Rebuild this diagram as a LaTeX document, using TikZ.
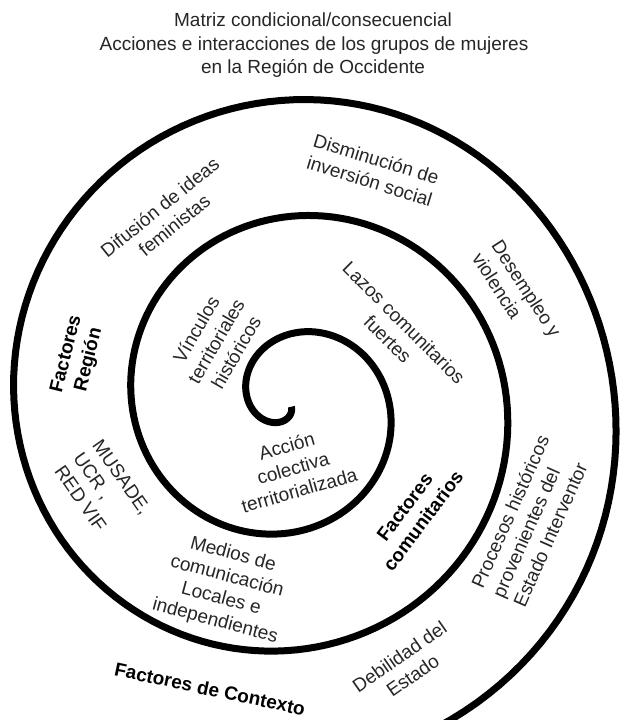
\documentclass[tikz,border=0pt]{standalone}
\usepackage{fontspec}
\setmainfont{Liberation Sans}
\definecolor{ink}{HTML}{262626}
\begin{document}
\begin{tikzpicture}[x=1pt,y=-1pt,
  txt/.style={font=\fontsize{19}{23}\selectfont, text=ink, inner sep=0pt},
  lbl/.style={txt, align=center},
  lbll/.style={txt, align=left},
  bld/.style={txt, align=center, font=\fontsize{19}{23}\selectfont\bfseries, text=black},
  spiral/.style={draw=black, line width=7pt}]
\useasboundingbox (0,0) rectangle (619,720);
% title
\node[txt, anchor=base] (t1) at (313,27) {Matriz condicional/consecuencial};
\node[txt, anchor=base] (t2) at (314,50) {Acciones e interacciones de los grupos de mujeres};
\node[txt, anchor=base] (t3) at (313,73) {en la Región de Occidente};
% spiral
\draw[spiral]
  plot[domain=-115:760, samples=360, variable=\s]
    ({290+(40.6+0.3267*\s)*cos(180-\s)},{404-(40.6+0.3267*\s)*sin(180-\s)})
  -- plot[domain=760:975, samples=90, variable=\s]
    ({290+(40.6+0.3267*\s-10.5*exp(-((\s-885)/50)*((\s-885)/50)))*cos(180-\s)},
     {404-(40.6+0.3267*\s-10.5*exp(-((\s-885)/50)*((\s-885)/50)))*sin(180-\s)});
% labels
\node[lbl, rotate=39] (dif) at (167,216) {Difusión de ideas\\feministas};
\node[lbll, rotate=-17] (dis) at (373,170) {Disminución de\\inversión social};
\node[lbll, rotate=-57] (des) at (517,295) {Desempleo y\\violencia};
\node[lbl, rotate=-45] (laz) at (396,331) {Lazos comunitarios\\fuertes};
\node[lbl, rotate=60] (vin) at (216,341) {Vínculos\\territoriales\\históricos};
\node[bld, rotate=76] (freg) at (78,357) {Factores\\Región};
\node[lbll, rotate=-55] (mus) at (103,490) {MUSADE,\\UCR ,\\RED VIF};
\node[lbl, rotate=16] (acc) at (293,468) {Acción\\colectiva\\territorializada};
\node[bld, rotate=53] (fcom) at (414,514) {Factores\\comunitarios};
\node[lbll, rotate=66] (pro) at (531,521) {Procesos históricos\\provenientes del\\Estado Interventor};
\node[lbl, rotate=35] (deb) at (406,666) {Debilidad del\\Estado};
\node[lbl, rotate=-15] (med) at (224,588) {Medios de\\comunicación\\Locales e\\independientes};
\node[bld, rotate=-12] (fctx) at (210,689) {Factores de Contexto};
\end{tikzpicture}
\end{document}
